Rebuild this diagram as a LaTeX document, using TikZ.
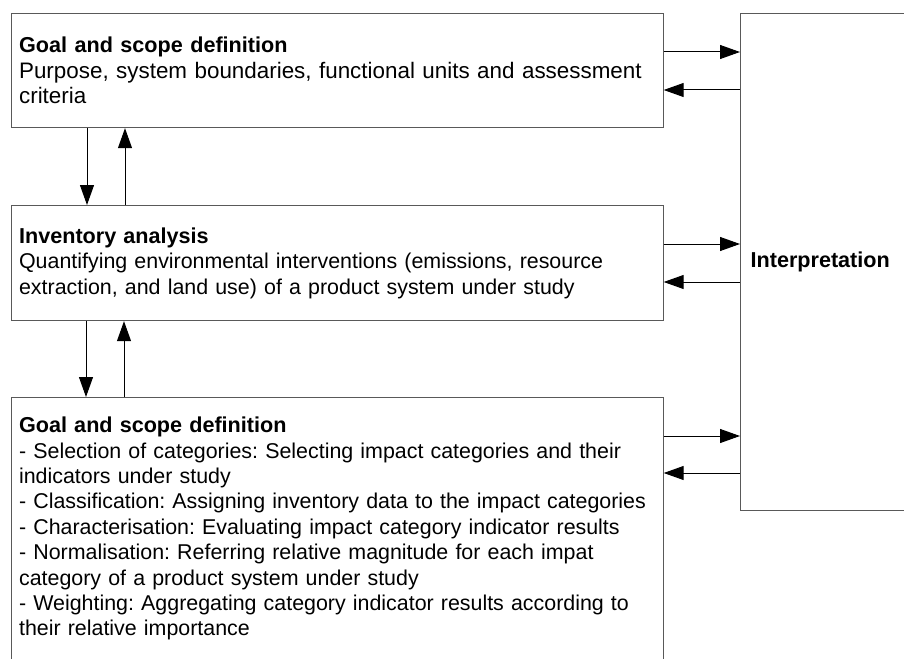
\documentclass[tikz,border=0pt]{standalone}
\usepackage{fontspec}
\setmainfont{Liberation Sans}
\usetikzlibrary{arrows.meta}
% one unbreakable text line
\newcommand{\tline}[1]{\mbox{#1}}
\newcommand{\ttitle}[1]{\mbox{\fontsize{21.6}{25.4}\selectfont\bfseries #1}}
\begin{document}
\frenchspacing
\begin{tikzpicture}[x=1pt,y=-1pt,
  stage/.style={draw=black!65, line width=1.2pt, anchor=north west,
    text width=636pt, inner xsep=8pt, inner ysep=0pt, align=left,
    font=\fontsize{21.4}{25.4}\selectfont\frenchspacing},
  flow/.style={-{Triangle[length=20pt,width=14pt]}, line width=1pt, black}]
\useasboundingbox (0,0) rectangle (904,658);

% the three phase boxes on the left
\node[stage, minimum height=114pt, font=\fontsize{22.4}{25.4}\selectfont\frenchspacing] (goal) at (10.5,13)
  {\ttitle{Goal and scope definition}\\
   \tline{Purpose, system boundaries, functional units and assessment}\\
   \tline{criteria}};
\node[stage, minimum height=115pt] (inv) at (10.5,205)
  {\ttitle{Inventory analysis}\\
   \tline{Quantifying environmental interventions (emissions, resource}\\
   \tline{extraction, and land use) of a product system under study}};
\node[stage, minimum height=262pt] (imp) at (10.5,397)
  {\ttitle{Goal and scope definition}\\
   \tline{- Selection of categories: Selecting impact categories and their}\\
   \tline{indicators under study}\\
   \tline{- Classification: Assigning inventory data to the impact categories}\\
   \tline{- Characterisation: Evaluating impact category indicator results}\\
   \tline{- Normalisation: Referring relative magnitude for each impat}\\
   \tline{category of a product system under study}\\
   \tline{- Weighting: Aggregating category indicator results according to}\\
   \tline{their relative importance}};

% interpretation column on the right
\node[draw=black!65, line width=1.2pt, anchor=north west, minimum height=497pt,
  text width=170pt, inner xsep=10pt, align=left,
  font=\fontsize{21.6}{25.4}\selectfont\bfseries] (interp) at (740,13)
  {Interpretation};

% vertical links between phases
\draw[flow] (goal.south -| 87,0) -- (inv.north -| 87,0);
\draw[flow] (inv.north -| 125,0) -- (goal.south -| 125,0);
\draw[flow] (inv.south -| 86,0) -- (imp.north -| 86,0);
\draw[flow] (imp.north -| 124,0) -- (inv.south -| 124,0);

% links to and from interpretation
\draw[flow] (goal.east |- 0,52) -- (interp.west |- 0,52);
\draw[flow] (interp.west |- 0,90) -- (goal.east |- 0,90);
\draw[flow] (inv.east |- 0,244) -- (interp.west |- 0,244);
\draw[flow] (interp.west |- 0,282) -- (inv.east |- 0,282);
\draw[flow] (imp.east |- 0,436) -- (interp.west |- 0,436);
\draw[flow] (interp.west |- 0,473) -- (imp.east |- 0,473);
\end{tikzpicture}
\end{document}
